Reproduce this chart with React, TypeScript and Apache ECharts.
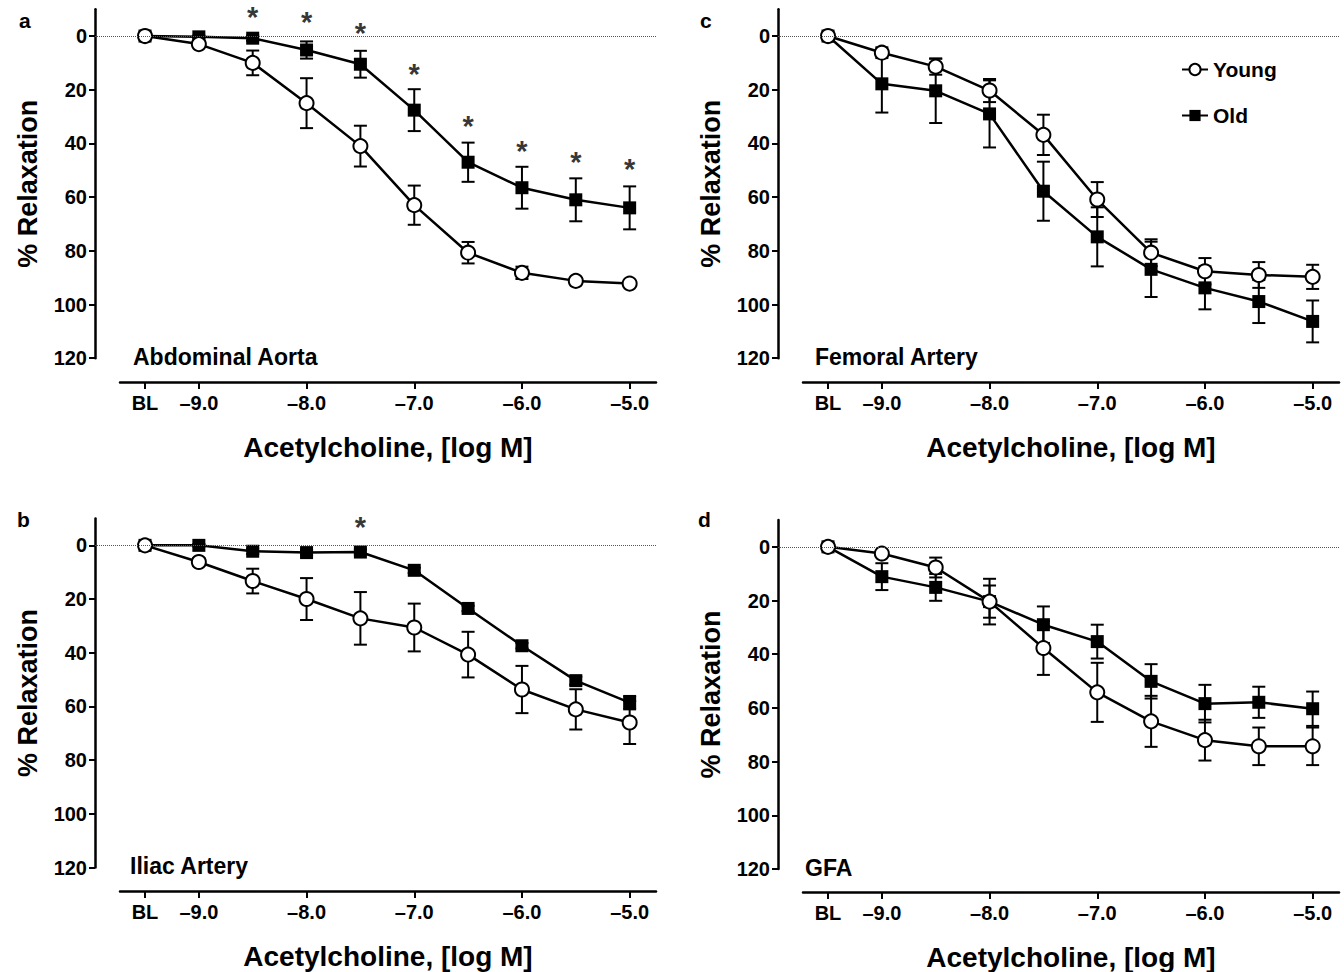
import React, { useEffect, useRef } from 'react';
import * as echarts from 'echarts';

// Dose levels (BL plotted at -9.5)
const doses = [-9.5, -9, -8.5, -8, -7.5, -7, -6.5, -6, -5.5, -5];
const xTickValues = [-9.5, -9, -8, -7, -6, -5];
const yTickValues = [0, 20, 40, 60, 80, 100, 120];

// Panel a: Abdominal Aorta
const youngA = [0, 3, 10, 25, 41, 63, 80.7, 88.2, 91.2, 92.2];
const youngAErr = [0, 1, 4.6, 9.3, 7.6, 7.3, 4, 2.3, 1, 1];
const oldA = [0, 0.3, 0.8, 5.2, 10.5, 27.6, 47, 56.5, 61, 64];
const oldAErr = [0, 0.5, 1, 3.2, 5, 7.8, 7.3, 7.8, 8, 8];
const sigAx = [-8.5, -8, -7.5, -7, -6.5, -6, -5.5, -5];
const sigAy = [-8.2, -6.3, -2.2, 12.9, 32.3, 41.7, 45.8, 48.5];

// Panel b: Iliac Artery
const youngB = [0, 6.2, 13.3, 20, 27.2, 30.6, 40.7, 53.7, 61.1, 66];
const youngBErr = [0, 1.5, 4.6, 7.8, 9.8, 8.9, 8.5, 8.8, 7.5, 8];
const oldB = [0, 0, 2.2, 2.7, 2.5, 9.3, 23.5, 37.4, 50.4, 58.6];
const oldBErr = [0, 0.5, 1, 1, 1, 1, 1, 1, 1.5, 2.5];
const sigBx = [-7.5];
const sigBy = [-8];

// Panel c: Femoral Artery
const youngC = [0, 6.2, 11.4, 20.3, 36.8, 60.9, 80.7, 87.6, 89, 89.7];
const youngCErr = [0, 2, 3, 4.3, 7.5, 6.5, 5, 4.9, 4.8, 4.5];
const oldC = [0, 17.8, 20.4, 29, 57.8, 74.8, 86.9, 93.8, 98.9, 106.3];
const oldCErr = [0, 10.7, 12, 12.5, 11, 11, 10.3, 8, 8, 7.8];

// Panel d: GFA
const youngD = [0, 2.5, 7.7, 20.4, 37.7, 54.2, 65, 72, 74.3, 74.3];
const youngDErr = [0, 1, 3.7, 8.5, 10, 11, 9.5, 7.6, 7, 7];
const oldD = [0, 11.1, 15.1, 20.4, 29, 35.3, 50.1, 58.4, 57.9, 60.3];
const oldDErr = [0, 5, 5, 6, 6.8, 6.3, 6.4, 7, 5.8, 6.4];

const FONT = '"Liberation Sans", Arial, Helvetica, sans-serif';
const PXU = 107.7; // px per log unit

const panels = [
  { letter: 'a', name: 'Abdominal Aorta', yx: 95, top: 9.2, xLineY: 382, nameX: 133, nameY: 345, young: youngA, youngErr: youngAErr, old: oldA, oldErr: oldAErr, sx: sigAx, sy: sigAy, lx: 14, ly: 5 },
  { letter: 'b', name: 'Iliac Artery', yx: 95, top: 518.5, xLineY: 891, nameX: 130, nameY: 854, young: youngB, youngErr: youngBErr, old: oldB, oldErr: oldBErr, sx: sigBx, sy: sigBy, lx: 12, ly: 504 },
  { letter: 'c', name: 'Femoral Artery', yx: 778, top: 9.2, xLineY: 382, nameX: 815, nameY: 345, young: youngC, youngErr: youngCErr, old: oldC, oldErr: oldCErr, sx: [], sy: [], lx: 695, ly: 5 },
  { letter: 'd', name: 'GFA', yx: 778, top: 520, xLineY: 893, nameX: 805, nameY: 856, young: youngD, youngErr: youngDErr, old: oldD, oldErr: oldDErr, sx: [], sy: [], lx: 693, ly: 504 },
];

function buildOption() {
  const grid: any[] = [];
  const xAxis: any[] = [];
  const yAxis: any[] = [];
  const series: any[] = [];
  const title: any[] = [];
  const plotH = 349;
  const mainW = 561;
  const mainMin = -9.5 - 50 / PXU;
  const max = mainMin + mainW / PXU;
  const axMin = -9.5 - 25 / PXU;

  panels.forEach((p, i) => {
    const gMain = 2 * i;
    const gAx = 2 * i + 1;
    grid.push({ left: p.yx, top: p.top, width: mainW, height: plotH });
    grid.push({ left: p.yx + 25, top: p.top, width: mainW - 25, height: p.xLineY - p.top });

    xAxis.push({ gridIndex: gMain, type: 'value', min: mainMin, max, show: false });
    xAxis.push({
      gridIndex: gAx, type: 'value', min: axMin, max,
      axisLine: { show: true, lineStyle: { color: '#000', width: 2.5 } },
      axisTick: { show: true, customValues: xTickValues, length: 7, lineStyle: { color: '#000', width: 2 } },
      axisLabel: {
        customValues: xTickValues, margin: 11, color: '#000', fontSize: 20, fontWeight: 'bold', fontFamily: FONT,
        formatter: (v: number) => (Math.abs(v + 9.5) < 1e-6 ? 'BL' : '\u2013' + Math.abs(v).toFixed(1)),
      },
      splitLine: { show: false },
      name: 'Acetylcholine, [log M]', nameLocation: 'middle', nameGap: 51,
      nameTextStyle: { color: '#000', fontSize: 28, fontWeight: 'bold', fontFamily: FONT },
    });

    yAxis.push({
      gridIndex: gMain, type: 'value', inverse: true, min: -10, max: 120,
      axisLine: { show: true, lineStyle: { color: '#000', width: 2.5 } },
      axisTick: { show: true, customValues: yTickValues, length: 6, lineStyle: { color: '#000', width: 2 } },
      axisLabel: { customValues: yTickValues, margin: 8, color: '#000', fontSize: 20, fontWeight: 'bold', fontFamily: FONT },
      splitLine: { show: false },
      name: '% Relaxation', nameLocation: 'middle', nameGap: 54,
      nameTextStyle: { color: '#000', fontSize: 27, fontWeight: 'bold', fontFamily: FONT },
    });
    yAxis.push({ gridIndex: gAx, type: 'value', min: 0, max: 1, show: false });

    const errData: number[][] = [];
    p.old.forEach((v, j) => { if (p.oldErr[j] > 0) errData.push([doses[j], v - p.oldErr[j], v + p.oldErr[j]]); });
    p.young.forEach((v, j) => { if (p.youngErr[j] > 0) errData.push([doses[j], v - p.youngErr[j], v + p.youngErr[j]]); });

    series.push({
      type: 'custom', xAxisIndex: gMain, yAxisIndex: gMain, z: 1, silent: true,
      data: errData,
      encode: { x: 0, y: [1, 2] },
      renderItem: (params: any, api: any) => {
        const x = api.value(0);
        const a = api.coord([x, api.value(1)]);
        const b = api.coord([x, api.value(2)]);
        const w = 6.5;
        const style = { stroke: '#000', lineWidth: 2, fill: null };
        return {
          type: 'group',
          children: [
            { type: 'line', shape: { x1: a[0], y1: a[1], x2: b[0], y2: b[1] }, style },
            { type: 'line', shape: { x1: a[0] - w, y1: a[1], x2: a[0] + w, y2: a[1] }, style },
            { type: 'line', shape: { x1: b[0] - w, y1: b[1], x2: b[0] + w, y2: b[1] }, style },
          ],
        };
      },
      markLine: {
        silent: true, symbol: 'none', label: { show: false },
        lineStyle: { type: 'dotted', color: '#555', width: 1 },
        data: [{ yAxis: 0 }],
      },
    });

    series.push({
      name: 'Old', type: 'line', xAxisIndex: gMain, yAxisIndex: gMain, z: 3,
      data: doses.map((d, j) => [d, p.old[j]]),
      symbol: 'rect', symbolSize: 13,
      itemStyle: { color: '#000' },
      lineStyle: { color: '#000', width: 2.5 },
    });
    series.push({
      name: 'Young', type: 'line', xAxisIndex: gMain, yAxisIndex: gMain, z: 4,
      data: doses.map((d, j) => [d, p.young[j]]),
      symbol: 'circle', symbolSize: 14,
      itemStyle: { color: '#fff', borderColor: '#000', borderWidth: 2 },
      lineStyle: { color: '#000', width: 2.5 },
    });
    if (p.sx.length) {
      series.push({
        type: 'scatter', xAxisIndex: gMain, yAxisIndex: gMain, z: 5, silent: true,
        data: p.sx.map((x, j) => [x, p.sy[j]]),
        symbolSize: 1, itemStyle: { color: 'rgba(0,0,0,0)' },
        label: { show: true, formatter: '*', position: 'inside', offset: [0, 3], fontSize: 29, fontWeight: 'bold', color: '#000', fontFamily: FONT },
      });
    }

    title.push({ text: p.letter, left: p.lx, top: p.ly, textStyle: { fontSize: 21, fontWeight: 'bold', color: '#000', fontFamily: FONT } });
    title.push({ text: p.name, left: p.nameX, top: p.nameY, padding: 0, textStyle: { fontSize: 23, fontWeight: 'bold', color: '#000', fontFamily: FONT } });
  });

  return {
    animation: false,
    backgroundColor: '#fff',
    title,
    grid,
    xAxis,
    yAxis,
    legend: {
      data: ['Young', 'Old'], orient: 'vertical', left: 1176, top: 54, itemGap: 25,
      itemWidth: 26, itemHeight: 14, selectedMode: false,
      textStyle: { color: '#000', fontSize: 21, fontWeight: 'bold', fontFamily: FONT },
    },
    series,
  };
}

export default function App() {
  const ref = useRef<HTMLDivElement>(null);
  useEffect(() => {
    if (!ref.current) return;
    const chart = echarts.init(ref.current, undefined, { renderer: 'svg' });
    chart.setOption(buildOption() as any);
    return () => chart.dispose();
  }, []);
  return <div ref={ref} style={{ position: 'fixed', left: 0, top: 0, width: 1344, height: 972, background: '#fff' }} />;
}
